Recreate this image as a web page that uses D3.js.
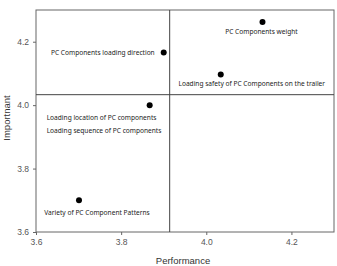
<!DOCTYPE html>
<html>
<head>
<meta charset="utf-8">
<script src="https://d3js.org/d3.v7.min.js"></script>
<style>
  body { margin:0; background:#fff; }
  .tick text { font-family: Arial, "Liberation Sans", sans-serif; font-size:8.5px; fill:#555; }
  .note { font-family: "Noto Sans", sans-serif; font-size:6.6px; fill:#222; }
  .title { font-family: Arial, "Liberation Sans", sans-serif; font-size:9.5px; fill:#333; }
</style>
</head>
<body>
<script>
  // data
  const items = [
    "PC Components weight",
    "PC Components loading direction",
    "Loading safety of PC Components on the trailer",
    "Loading location of PC components",
    "Variety of PC Component Patterns"
  ];
  const performance = [4.132, 3.900, 4.034, 3.867, 3.701];
  const important = [4.262, 4.166, 4.097, 4.000, 3.700];
  const xTicks = [3.6, 3.8, 4.0, 4.2];
  const yTicks = [3.6, 3.8, 4.0, 4.2];
  const meanPerformance = 3.914;
  const meanImportant = 4.033;
  const extraNote = "Loading sequence of PC components";

  const width = 337, height = 266;
  const margin = { top: 10, right: 3, bottom: 34, left: 36 };
  const innerWidth = width - margin.left - margin.right;
  const innerHeight = height - margin.top - margin.bottom;

  const svg = d3.select("body").append("svg")
    .attr("width", width)
    .attr("height", height);

  const g = svg.append("g")
    .attr("transform", `translate(${margin.left},${margin.top})`);

  const x = d3.scaleLinear().domain([3.6, 4.3]).range([0, innerWidth]);
  const y = d3.scaleLinear().domain([3.6, 4.3]).range([innerHeight, 0]);

  const xAxis = g.append("g")
    .attr("transform", `translate(0,${innerHeight})`)
    .call(d3.axisBottom(x).tickValues(xTicks).tickFormat(d3.format(".1f")).tickSize(3).tickPadding(4));
  const yAxis = g.append("g")
    .call(d3.axisLeft(y).tickValues(yTicks).tickFormat(d3.format(".1f")).tickSize(3).tickPadding(4));
  [xAxis, yAxis].forEach(a => {
    a.select(".domain").remove();
    a.selectAll(".tick line").attr("stroke", "#666");
  });

  // frame
  g.append("rect")
    .attr("width", innerWidth).attr("height", innerHeight)
    .attr("fill", "none").attr("stroke", "#666").attr("stroke-width", 1);

  // quadrant lines
  g.append("line")
    .attr("x1", x(meanPerformance)).attr("x2", x(meanPerformance))
    .attr("y1", 0).attr("y2", innerHeight)
    .attr("stroke", "#444").attr("stroke-width", 1);
  g.append("line")
    .attr("x1", 0).attr("x2", innerWidth)
    .attr("y1", y(meanImportant)).attr("y2", y(meanImportant))
    .attr("stroke", "#444").attr("stroke-width", 1);

  g.selectAll("circle.pt")
    .data(items)
    .enter().append("circle")
    .attr("class", "pt")
    .attr("cx", (d, i) => x(performance[i]))
    .attr("cy", (d, i) => y(important[i]))
    .attr("r", 3)
    .attr("fill", "#000");

  // label placement (anchor, dx, dy relative to point)
  const place = [
    { anchor: "middle", dx: -1, dy: 12 },
    { anchor: "end", dx: -9, dy: 3 },
    { anchor: "middle", dx: 31, dy: 12 },
    { anchor: "start", dx: -103, dy: 15 },
    { anchor: "middle", dx: 18, dy: 15 }
  ];
  g.selectAll("text.note")
    .data(items)
    .enter().append("text")
    .attr("class", "note")
    .attr("x", (d, i) => x(performance[i]) + place[i].dx)
    .attr("y", (d, i) => y(important[i]) + place[i].dy)
    .attr("text-anchor", (d, i) => place[i].anchor)
    .text(d => d);

  g.append("text")
    .attr("class", "note")
    .attr("x", x(performance[3]) - 103)
    .attr("y", y(important[3]) + 28)
    .attr("text-anchor", "start")
    .text(extraNote);

  svg.append("text")
    .attr("class", "title")
    .attr("x", margin.left + innerWidth / 2 - 2)
    .attr("y", height - 2)
    .attr("text-anchor", "middle")
    .text("Performance");

  svg.append("text")
    .attr("class", "title")
    .attr("transform", `translate(10,${margin.top + innerHeight / 2 - 3}) rotate(-90)`)
    .attr("text-anchor", "middle")
    .text("Importnant");
</script>
</body>
</html>
